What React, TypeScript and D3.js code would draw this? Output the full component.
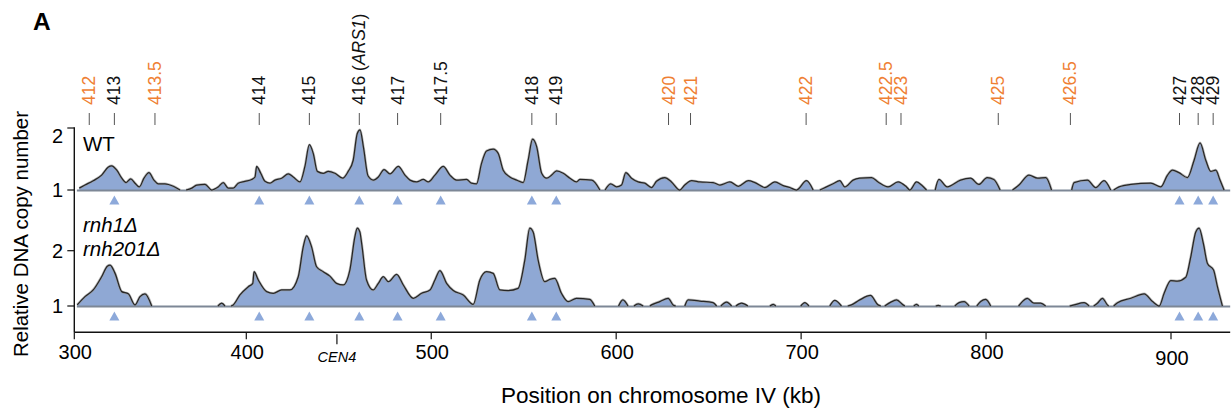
import React from 'react';
import * as d3 from 'd3';

const FONT = '"Liberation Sans", Arial, Helvetica, sans-serif';

// x axis (kb on chromosome IV)
const xTicks = [300, 400, 500, 600, 700, 800, 900];
const axisMaxKb = 932;
const copyTicks = [1, 2];

// replication origins (ARS4xx) along the top
const originNames = ['412', '413', '413.5', '414', '415', '416', '417', '417.5', '418', '419', '420', '421', '422', '422.5', '423', '425', '426.5', '427', '428', '429'];
const originKb = [308.7, 323.3, 346.9, 407.0, 434.1, 461.1, 481.8, 505.1, 554.4, 567.6, 628.3, 640.2, 702.7, 746.0, 754.0, 806.6, 845.6, 904.6, 914.7, 922.8];
const originActive = [false, true, false, true, true, true, true, true, true, true, false, false, false, false, false, false, false, true, true, true];

const cenName = 'CEN4';
const cenKb = 449;

type Pt = [number, number | null];

// WT relative DNA copy number profile (null = gap)
const wtProfile: Pt[] = [
  [302.9, 1.03], [306.2, 1.08], [311.0, 1.15], [315.9, 1.24], [319.8, 1.37], [321.7, 1.39], [324.7, 1.32], [327.6, 1.19],
  [330.1, 1.12], [332.8, 1.18], [335.3, 1.11], [337.8, 1.05], [340.5, 1.19], [343.4, 1.28], [346.3, 1.16], [348.8, 1.10],
  [352.7, 1.10], [357.6, 1.06], [361.5, 1.0], [363, null],
  [365.0, 1.0], [368.3, 1.03], [371.2, 1.08], [376.0, 1.09], [379.9, 1.0], [383.7, 1.05], [386.6, 1.12], [389.5, 1.03],
  [392.4, 1.03], [395.3, 1.11], [399.2, 1.14], [402.9, 1.17], [404.7, 1.21], [405.6, 1.38], [407.8, 1.27], [410.1, 1.14],
  [412.8, 1.11], [415.5, 1.16], [419.1, 1.19], [422.7, 1.26], [425.4, 1.21], [429.0, 1.13], [431.7, 1.38], [434.1, 1.73],
  [436.2, 1.59], [438.4, 1.30], [441.6, 1.27], [444.3, 1.30], [447.9, 1.27], [452.1, 1.19], [455.1, 1.30], [457.8, 1.48],
  [460.0, 1.91], [461.5, 1.97], [463.4, 1.68], [465.8, 1.23], [468.7, 1.16], [471.4, 1.21], [474.5, 1.33], [477.7, 1.26],
  [482.2, 1.38], [485.8, 1.24], [488.5, 1.16], [492.1, 1.13], [495.7, 1.17], [498.4, 1.13], [502.0, 1.24], [506.5, 1.38],
  [510.1, 1.24], [513.7, 1.16], [519.1, 1.17], [521.8, 1.11], [524.5, 1.10], [527.2, 1.43], [529.9, 1.63], [533.5, 1.66],
  [536.2, 1.59], [538.9, 1.32], [542.5, 1.21], [546.2, 1.16], [549.7, 1.12], [552.4, 1.48], [554.8, 1.82], [557.0, 1.70],
  [559.7, 1.27], [562.4, 1.19], [565.1, 1.24], [567.8, 1.31], [571.4, 1.27], [575.0, 1.19], [578.6, 1.13], [580.4, 1.17],
  [586.8, 1.16], [591.2, 1.0], [592.5, null],
  [594.0, 1.0], [597.0, 1.10], [600.2, 1.05], [602.9, 1.08], [605.2, 1.28], [608.3, 1.19], [611.9, 1.13], [615.5, 1.11],
  [619.1, 1.04], [621.8, 1.14], [626.3, 1.20], [629.9, 1.13], [634.4, 1.0], [637.1, 1.08], [640.8, 1.15], [645.3, 1.13],
  [652.4, 1.12], [656.1, 1.08], [661.5, 1.13], [666.0, 1.06], [671.4, 1.15], [675.0, 1.12], [680.4, 1.04], [685.8, 1.13],
  [690.3, 1.07], [693.9, 1.04], [697.5, 1.0], [702.9, 1.15], [706.5, 1.0], [708, null],
  [710.1, 1.0], [713.7, 1.05], [717.3, 1.10], [720.9, 1.15], [723.6, 1.05], [728.1, 1.16], [731.7, 1.19], [738.1, 1.20],
  [741.6, 1.13], [747.0, 1.05], [752.4, 1.13], [757.0, 1.05], [758.8, 1.0], [762.4, 1.13], [765.1, 1.08], [767.8, 1.0],
  [770, null],
  [772.5, 1.0], [774.5, 1.17], [779.0, 1.05], [786.2, 1.16], [791.6, 1.19], [796.1, 1.09], [800.6, 1.20], [804.2, 1.17],
  [807.6, 1.0], [810, null],
  [814.3, 1.0], [817.8, 1.08], [823.2, 1.24], [827.8, 1.19], [832.3, 1.20], [835.4, 1.0], [840, null],
  [846.3, 1.0], [847.6, 1.12], [854.8, 1.16], [859.3, 1.04], [863.8, 1.15], [867.4, 1.0], [868.2, null],
  [869.0, 1.0], [871.9, 1.05], [878.3, 1.09], [889.1, 1.11], [894.5, 1.05], [898.1, 1.24], [900.8, 1.32], [904.3, 1.28],
  [908.9, 1.20], [912.5, 1.48], [915.7, 1.76], [918.8, 1.48], [921.5, 1.30], [924.2, 1.32], [926.5, 1.16], [928.7, 1.0],
];

// rnh1Δ rnh201Δ relative DNA copy number profile (null = gap)
const rnhProfile: Pt[] = [
  [301.7, 1.02], [306.2, 1.17], [311.0, 1.29], [315.9, 1.53], [319.2, 1.72], [320.8, 1.74], [323.7, 1.59], [327.6, 1.26],
  [331.4, 1.22], [335.3, 1.02], [338.2, 1.17], [341.1, 1.22], [345.0, 1.0], [360, null],
  [383.5, 1.0], [385.7, 1.05], [387.6, 1.0], [389, null],
  [391.1, 1.0], [392.4, 1.02], [396.3, 1.20], [401.1, 1.35], [403.5, 1.41], [404.2, 1.62], [406.5, 1.47], [411.0, 1.26],
  [414.6, 1.23], [419.1, 1.29], [423.6, 1.29], [428.1, 1.53], [430.8, 2.07], [432.6, 2.27], [435.3, 2.07], [438.0, 1.71],
  [441.6, 1.62], [445.2, 1.54], [448.8, 1.41], [452.4, 1.38], [456.0, 1.65], [458.7, 2.25], [460.0, 2.41], [461.4, 2.34],
  [462.5, 2.10], [465.0, 1.47], [468.6, 1.29], [471.4, 1.41], [474.1, 1.53], [476.8, 1.44], [481.3, 1.57], [484.9, 1.38],
  [490.3, 1.14], [494.8, 1.23], [499.3, 1.29], [502.0, 1.47], [504.7, 1.64], [508.3, 1.41], [511.9, 1.28], [517.3, 1.20],
  [522.7, 1.03], [526.3, 1.47], [529.9, 1.62], [533.5, 1.59], [537.1, 1.29], [541.6, 1.28], [547.0, 1.32], [550.6, 1.83],
  [553.3, 2.41], [555.1, 2.34], [557.8, 1.83], [561.4, 1.44], [564.1, 1.48], [566.8, 1.50], [570.4, 1.23], [574.0, 1.08],
  [578.5, 1.14], [585.7, 1.12], [588.4, 1.0], [595, null],
  [601.3, 1.0], [603.6, 1.11], [606.4, 1.0], [608, null],
  [609.6, 1.0], [611.9, 1.04], [614.6, 1.0], [616, null],
  [618.2, 1.0], [619.1, 1.02], [623.6, 1.08], [628.1, 1.14], [630.8, 1.02], [632.2, 1.0], [634, null],
  [637.1, 1.0], [638.9, 1.11], [645.3, 1.09], [652.4, 1.06], [654.3, 1.0], [655, null],
  [656.6, 1.0], [659.7, 1.07], [662.4, 1.0], [663, null],
  [664.7, 1.0], [667.8, 1.05], [671.2, 1.0], [675, null],
  [683.1, 1.0], [684.9, 1.03], [686.3, 1.0], [690, null],
  [699.8, 1.0], [702.0, 1.06], [704.2, 1.0], [710, null],
  [715.5, 1.0], [718.2, 1.10], [721.8, 1.0], [723, null],
  [725.2, 1.0], [727.2, 1.02], [731.7, 1.11], [737.5, 1.19], [741.6, 1.02], [743.1, 1.0], [744, null],
  [745.2, 1.0], [748.5, 1.07], [751.6, 1.11], [755.1, 1.02], [756.1, 1.0], [758, null],
  [760.9, 1.0], [762.4, 1.03], [763.6, 1.0], [768, null],
  [772.8, 1.0], [774.1, 1.01], [775.5, 1.0], [780, null],
  [783.1, 1.0], [785.4, 1.06], [788.1, 1.08], [790.8, 1.0], [792, null],
  [795.0, 1.0], [797.1, 1.08], [799.8, 1.12], [802.5, 1.0], [810, null],
  [817.6, 1.0], [819.6, 1.08], [822.3, 1.14], [825.9, 1.05], [829.5, 1.05], [832.2, 1.0], [840, null],
  [845.2, 1.0], [847.6, 1.02], [853.0, 1.06], [855.7, 1.0], [857, null],
  [858.2, 1.0], [860.2, 1.05], [862.9, 1.14], [865.6, 1.02], [866.3, 1.0], [867.5, null],
  [869.0, 1.0], [871.1, 1.06], [878.3, 1.14], [885.5, 1.22], [890.0, 1.08], [893.6, 1.0], [896.3, 1.23], [899.9, 1.46],
  [903.5, 1.45], [908.0, 1.52], [910.7, 1.89], [913.4, 2.34], [915.2, 2.41], [917.5, 2.13], [919.7, 1.77], [923.0, 1.65],
  [925.1, 1.35], [927.8, 1.0],
];

const ORANGE = '#EF7F33';
const FILL = '#8FA8D4';
const MARK = '#8DA9DA';

export default function App() {
  const W = 1231;
  const H = 411;
  const x = d3.scaleLinear().domain([300, 400, 900]).range([74.3, 246.3, 1171]);
  const yWT = d3.scaleLinear().domain([1, 2]).range([190, 128]);
  const yRnh = d3.scaleLinear().domain([1, 2]).range([306, 250.7]);
  const axisY = 332.3;
  const axisX = x(300);

  const tracks = [
    { key: 'wt', data: wtProfile, y: yWT },
    { key: 'rnh', data: rnhProfile, y: yRnh },
  ];

  const activeKb = originKb.filter((_, i) => originActive[i]);

  return (
    <svg width={W} height={H} style={{ position: 'absolute', left: 0, top: 0, background: '#fff' }} fontFamily={FONT}>
      {/* panel letter */}
      <text x={33} y={30} fontSize={24.5} fontWeight="bold">A</text>

      {/* origin labels */}
      {originNames.map((n, i) => {
        const cx = x(originKb[i]);
        const col = originActive[i] ? '#111' : ORANGE;
        return (
          <g key={n}>
            <line x1={cx} x2={cx} y1={113} y2={125} stroke="#555" strokeWidth={1} />
            <text transform={`translate(${cx},105) rotate(-90)`} fontSize={17.5} fill={col} dominantBaseline="central">
              {n === '416' ? (
                <>
                  416 (<tspan fontStyle="italic">ARS1</tspan>)
                </>
              ) : n}
            </text>
          </g>
        );
      })}

      {/* tracks */}
      {tracks.map((t) => {
        const area = d3.area<Pt>()
          .defined((d) => d[1] != null)
          .x((d) => x(d[0]))
          .y0(t.y(1))
          .y1((d) => t.y(Math.max(1, d[1] as number)))
          .curve(d3.curveMonotoneX);
        const line = d3.line<Pt>()
          .defined((d) => d[1] != null)
          .x((d) => x(d[0]))
          .y((d) => t.y(Math.max(1, d[1] as number)))
          .curve(d3.curveMonotoneX);
        const base = t.y(1);
        return (
          <g key={t.key}>
            <path d={area(t.data) || ''} fill={FILL} />
            <line x1={x(301.5)} x2={x(axisMaxKb)} y1={base + 0.5} y2={base + 0.5} stroke="#7d8796" strokeWidth={2} />
            <path d={line(t.data) || ''} fill="none" stroke="#9a9a9a" strokeWidth={2.6} strokeOpacity={0.7} strokeLinejoin="round" />
            <path d={line(t.data) || ''} fill="none" stroke="#262626" strokeWidth={1.25} strokeLinejoin="round" />
            {activeKb.map((k, i) => {
              const cx = x(k);
              const cy = base + 10;
              return (
                <path key={i} d={`M${cx - 5},${cy + 4.5}L${cx + 5},${cy + 4.5}L${cx},${cy - 4.5}Z`} fill={MARK} />
              );
            })}
          </g>
        );
      })}

      {/* track labels */}
      <text x={83} y={151} fontSize={20.5}>WT</text>
      <text x={83} y={232} fontSize={20.5} fontStyle="italic">rnh1Δ</text>
      <text x={83} y={256} fontSize={20.5} fontStyle="italic">rnh201Δ</text>

      {/* y axis */}
      <line x1={axisX} x2={axisX} y1={yWT(2) - 0.7} y2={axisY} stroke="#111" strokeWidth={1.4} />
      {tracks.map((t) =>
        copyTicks.map((v) => {
          const ty = t.y(v);
          const off = t.key === 'wt' && v === 2 ? 7.5 : 0;
          return (
            <g key={t.key + v}>
              <line x1={axisX - 7} x2={axisX} y1={ty} y2={ty} stroke="#111" strokeWidth={1.2} />
              <text x={63} y={ty + off} fontSize={20} textAnchor="end" dominantBaseline="central">{v}</text>
            </g>
          );
        })
      )}
      <text transform={`translate(20.7,234) rotate(-90)`} fontSize={20.5} textAnchor="middle" dominantBaseline="central">
        Relative DNA copy number
      </text>

      {/* x axis */}
      <line x1={axisX} x2={x(axisMaxKb)} y1={axisY} y2={axisY} stroke="#111" strokeWidth={1.4} />
      {xTicks.map((v) => (
        <g key={v}>
          <line x1={x(v)} x2={x(v)} y1={axisY} y2={axisY + 7} stroke="#111" strokeWidth={1.2} />
          <text x={x(v) + 1} y={v === 900 ? 365 : 359} fontSize={20} textAnchor="middle">{v}</text>
        </g>
      ))}
      <line x1={x(cenKb)} x2={x(cenKb)} y1={axisY + 2} y2={axisY + 12} stroke="#111" strokeWidth={1.2} />
      <text x={x(cenKb)} y={362} fontSize={14.5} fontStyle="italic" textAnchor="middle">{cenName}</text>
      <text x={661} y={403} fontSize={22.5} textAnchor="middle">Position on chromosome IV (kb)</text>
    </svg>
  );
}
